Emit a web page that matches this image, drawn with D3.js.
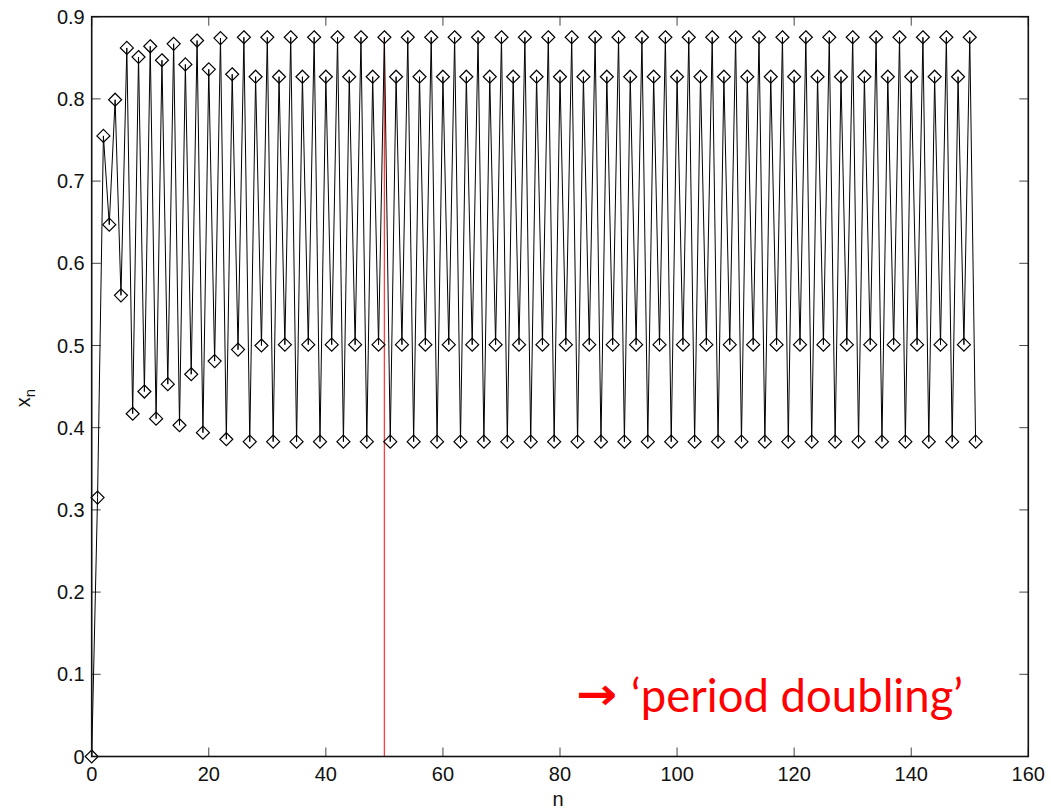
<!DOCTYPE html>
<html>
<head>
<meta charset="utf-8">
<script src="https://cdn.jsdelivr.net/npm/d3@7"></script>
<style>
  body { margin: 0; background: #fff; }
  svg { display: block; }
</style>
</head>
<body>
<div id="chart"></div>
<script>

// Iterates x_n, n = 0 .. 151
const xn = [
	0.000, 0.315, 0.755, 0.647, 0.799, 0.561, 0.862, 0.417,
	0.851, 0.444, 0.864, 0.411, 0.847, 0.453, 0.867, 0.403,
	0.842, 0.465, 0.871, 0.394, 0.836, 0.481, 0.874, 0.386,
	0.830, 0.495, 0.875, 0.383, 0.827, 0.500, 0.875, 0.383,
	0.827, 0.501, 0.875, 0.383, 0.827, 0.501, 0.875, 0.383,
	0.827, 0.501, 0.875, 0.383, 0.827, 0.501, 0.875, 0.383,
	0.827, 0.501, 0.875, 0.383, 0.827, 0.501, 0.875, 0.383,
	0.827, 0.501, 0.875, 0.383, 0.827, 0.501, 0.875, 0.383,
	0.827, 0.501, 0.875, 0.383, 0.827, 0.501, 0.875, 0.383,
	0.827, 0.501, 0.875, 0.383, 0.827, 0.501, 0.875, 0.383,
	0.827, 0.501, 0.875, 0.383, 0.827, 0.501, 0.875, 0.383,
	0.827, 0.501, 0.875, 0.383, 0.827, 0.501, 0.875, 0.383,
	0.827, 0.501, 0.875, 0.383, 0.827, 0.501, 0.875, 0.383,
	0.827, 0.501, 0.875, 0.383, 0.827, 0.501, 0.875, 0.383,
	0.827, 0.501, 0.875, 0.383, 0.827, 0.501, 0.875, 0.383,
	0.827, 0.501, 0.875, 0.383, 0.827, 0.501, 0.875, 0.383,
	0.827, 0.501, 0.875, 0.383, 0.827, 0.501, 0.875, 0.383,
	0.827, 0.501, 0.875, 0.383, 0.827, 0.501, 0.875, 0.383,
	0.827, 0.501, 0.875, 0.383, 0.827, 0.501, 0.875, 0.383
];

// Axis ticks
const xTicks = [0, 20, 40, 60, 80, 100, 120, 140, 160];
const yTicks = [0, 0.1, 0.2, 0.3, 0.4, 0.5, 0.6, 0.7, 0.8, 0.9];
const yTickLabels = ["0", "0.1", "0.2", "0.3", "0.4", "0.5", "0.6", "0.7", "0.8", "0.9"];

// Red marker line and annotation
const markerN = 50;
const markerTop = 0.875;
const annotation = "\u2018period doubling\u2019";

// Plot box
const margin = {top: 16.7, right: 22.7, bottom: 54.5, left: 91.7},
	W = 1051, H = 811,
	width = W - margin.left - margin.right,
	height = H - margin.top - margin.bottom;

const svg = d3.select("#chart")
	.append("svg")
		.attr("width", W)
		.attr("height", H);

svg.append("rect").attr("width", W).attr("height", H).attr("fill", "#fff");

const inner = svg.append("g")
	.attr("transform", "translate(" + margin.left + "," + margin.top + ")");

const x = d3.scaleLinear().domain([0, 160]).range([0, width]);
const y = d3.scaleLinear().domain([0, 0.9]).range([height, 0]);

const tickLen = 9;
const font = "'Liberation Sans', Arial, Helvetica, sans-serif";

// Ticks (inward, on all four sides, like MATLAB)
const tickColor = "#444";
xTicks.forEach(t => {
	inner.append("line").attr("x1", x(t)).attr("x2", x(t))
		.attr("y1", height).attr("y2", height - tickLen)
		.attr("stroke", tickColor).attr("stroke-width", 1);
	inner.append("line").attr("x1", x(t)).attr("x2", x(t))
		.attr("y1", 0).attr("y2", tickLen)
		.attr("stroke", tickColor).attr("stroke-width", 1);
});
yTicks.forEach(t => {
	inner.append("line").attr("x1", 0).attr("x2", tickLen)
		.attr("y1", y(t)).attr("y2", y(t))
		.attr("stroke", tickColor).attr("stroke-width", 1);
	inner.append("line").attr("x1", width).attr("x2", width - tickLen)
		.attr("y1", y(t)).attr("y2", y(t))
		.attr("stroke", tickColor).attr("stroke-width", 1);
});

// Tick labels
inner.selectAll(".xlab")
	.data(xTicks)
	.enter()
	.append("text")
	.attr("x", d => x(d))
	.attr("y", height + 25)
	.attr("text-anchor", "middle")
	.attr("font-family", font)
	.attr("font-size", "20px")
	.attr("fill", "#111")
	.text(d => d);

inner.selectAll(".ylab")
	.data(yTicks)
	.enter()
	.append("text")
	.attr("x", -7)
	.attr("y", d => y(d))
	.attr("dy", "0.36em")
	.attr("text-anchor", "end")
	.attr("font-family", font)
	.attr("font-size", "20px")
	.attr("fill", "#111")
	.text((d, i) => yTickLabels[i]);

// Axis titles
svg.append("text")
	.attr("x", margin.left + width / 2 - 2)
	.attr("y", 806)
	.attr("text-anchor", "middle")
	.attr("font-family", font)
	.attr("font-size", "20px")
	.attr("fill", "#111")
	.text("n");

const ylab = svg.append("text")
	.attr("transform", "translate(30,398) rotate(-90)")
	.attr("text-anchor", "middle")
	.attr("font-family", font)
	.attr("font-size", "20px")
	.attr("fill", "#111");
ylab.append("tspan").text("x");
ylab.append("tspan").attr("dy", "0.3em").attr("font-size", "15px").text("n");

// Red vertical line
inner.append("line")
	.attr("x1", x(markerN)).attr("x2", x(markerN))
	.attr("y1", y(0)).attr("y2", y(markerTop))
	.attr("stroke", "#ff3b3b")
	.attr("stroke-width", 1.3);

// Series line
const data = xn.map((v, i) => ({n: i, v: v}));
inner.append("path")
	.datum(data)
	.attr("fill", "none")
	.attr("stroke", "#000")
	.attr("stroke-width", 1)
	.attr("d", d3.line().x(d => x(d.n)).y(d => y(d.v)));

// Diamond markers
const r = 6.5;
const diamond = "M0," + (-r) + "L" + r + ",0L0," + r + "L" + (-r) + ",0Z";
inner.selectAll(".mk")
	.data(data)
	.enter()
	.append("path")
	.attr("transform", d => "translate(" + x(d.n) + "," + y(d.v) + ")")
	.attr("d", diamond)
	.attr("fill", "none")
	.attr("stroke", "#000")
	.attr("stroke-width", 1.2);

// Frame
inner.append("rect")
	.attr("width", width).attr("height", height)
	.attr("fill", "none")
	.attr("stroke", "#111")
	.attr("stroke-width", 1.6);

// Annotation
svg.append("text")
	.attr("x", 576)
	.attr("y", 709)
	.attr("font-family", "'DejaVu Sans', sans-serif")
	.attr("font-weight", "bold")
	.attr("font-size", "44px")
	.attr("fill", "#ff0000")
	.attr("textLength", 41)
	.attr("lengthAdjust", "spacingAndGlyphs")
	.text("\u2192");

svg.append("text")
	.attr("x", 631)
	.attr("y", 712)
	.attr("font-family", "Lato, 'Open Sans', sans-serif")
	.attr("font-size", "46px")
	.attr("fill", "#ff0000")
	.attr("textLength", 332)
	.attr("lengthAdjust", "spacingAndGlyphs")
	.text(annotation);

</script>
</body>
</html>
